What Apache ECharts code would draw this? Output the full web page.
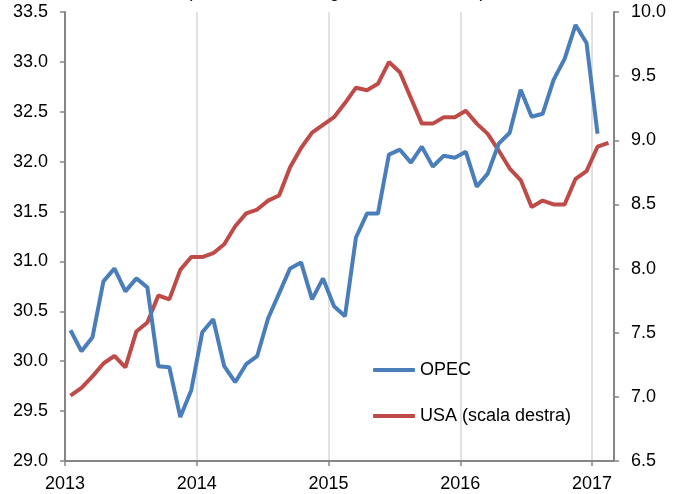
<!DOCTYPE html>
<html>
<head>
<meta charset="utf-8">
<script src="https://cdn.jsdelivr.net/npm/echarts@6/dist/echarts.min.js"></script>
<style>
  html, body { margin: 0; padding: 0; background: #fff; }
  #chart { width: 685px; height: 494px; }
</style>
</head>
<body>
<div id="chart"></div>
<script>
// monthly data, Jan 2013 ->
const years = ['2013', '2014', '2015', '2016', '2017'];
const opec = [
  30.31, 30.10, 30.24, 30.80, 30.93, 30.70, 30.83, 30.74, 29.95, 29.94, 29.44, 29.71,
  30.29, 30.42, 29.95, 29.79, 29.97, 30.05, 30.43, 30.68, 30.93, 30.99, 30.62, 30.83,
  30.55, 30.45, 31.24, 31.48, 31.48, 32.07, 32.12, 31.99, 32.15, 31.95, 32.06, 32.04,
  32.10, 31.75, 31.88, 32.18, 32.29, 32.72, 32.45, 32.48, 32.82, 33.03, 33.37, 33.19,
  32.28
];
const usa = [
  7.01, 7.07, 7.16, 7.26, 7.32, 7.23, 7.51, 7.58, 7.79, 7.76, 7.99, 8.09,
  8.09, 8.12, 8.19, 8.33, 8.43, 8.46, 8.53, 8.57, 8.79, 8.94, 9.06, 9.12,
  9.18, 9.29, 9.41, 9.39, 9.44, 9.61, 9.53, 9.33, 9.13, 9.13, 9.18, 9.18,
  9.23, 9.13, 9.05, 8.92, 8.78, 8.69, 8.48, 8.53, 8.50, 8.50, 8.70, 8.76,
  8.95, 8.98
];

const font = 'Liberation Sans, Arial, sans-serif';
const axisGray = '#868686';

// points sit mid-month
const toPoints = arr => arr.map((v, i) => [i + 0.5, v]);

const chart = echarts.init(document.getElementById('chart'));
const option = {
  animation: false,
  backgroundColor: '#fff',
  textStyle: { fontFamily: font },
  // subtitle cut off by the top edge, as in the original
  graphic: [{
    type: 'text',
    x: 336,
    y: 1,
    style: {
      text: '(milioni di barili al giorno, dati mensili)',
      font: '18px ' + font,
      fill: '#000',
      align: 'center',
      verticalAlign: 'bottom'
    }
  }],
  grid: { left: 65, right: 71, top: 12, bottom: 33 },
  legend: {
    orient: 'vertical',
    left: 368,
    top: 356,
    icon: 'roundRect',
    itemWidth: 42,
    itemHeight: 4,
    itemGap: 28,
    textStyle: { fontFamily: font, fontSize: 18, color: '#000' },
    data: ['OPEC', 'USA (scala destra)']
  },
  xAxis: {
    type: 'value',
    min: 0,
    max: 50,
    interval: 12,
    axisLine: { lineStyle: { color: axisGray, width: 2 } },
    axisTick: { show: true, length: 5, lineStyle: { color: axisGray, width: 1.5 }, customValues: [0, 12, 24, 36, 48] },
    axisLabel: {
      margin: 14,
      fontSize: 18,
      color: '#000',
      fontFamily: font,
      customValues: [0, 12, 24, 36, 48],
      formatter: v => (v % 12 === 0 ? years[v / 12] : '')
    },
    splitLine: { show: true, lineStyle: { color: '#d9d9d9', width: 1.5 } }
  },
  yAxis: [
    {
      type: 'value',
      min: 29,
      max: 33.5,
      interval: 0.5,
      axisLine: { show: true, lineStyle: { color: axisGray, width: 2 } },
      axisTick: { show: true, length: 5, lineStyle: { color: axisGray, width: 1.5 } },
      axisLabel: { margin: 17, fontSize: 18, color: '#000', fontFamily: font, formatter: v => v.toFixed(1) },
      splitLine: { show: false }
    },
    {
      type: 'value',
      min: 6.5,
      max: 10,
      interval: 0.5,
      position: 'right',
      axisLine: { show: true, lineStyle: { color: axisGray, width: 2 } },
      axisTick: { show: true, length: 5, lineStyle: { color: axisGray, width: 1.5 } },
      axisLabel: { margin: 17, fontSize: 18, color: '#000', fontFamily: font, formatter: v => v.toFixed(1) },
      splitLine: { show: false }
    }
  ],
  series: [
    {
      name: 'OPEC',
      type: 'line',
      yAxisIndex: 0,
      data: toPoints(opec),
      symbol: 'none',
      color: '#4a7ebb',
      lineStyle: { color: '#4a7ebb', width: 4 },
      z: 3
    },
    {
      name: 'USA (scala destra)',
      type: 'line',
      yAxisIndex: 1,
      data: toPoints(usa),
      symbol: 'none',
      color: '#be4b48',
      lineStyle: { color: '#be4b48', width: 4 },
      z: 2
    }
  ]
};
chart.setOption(option);
</script>
</body>
</html>
